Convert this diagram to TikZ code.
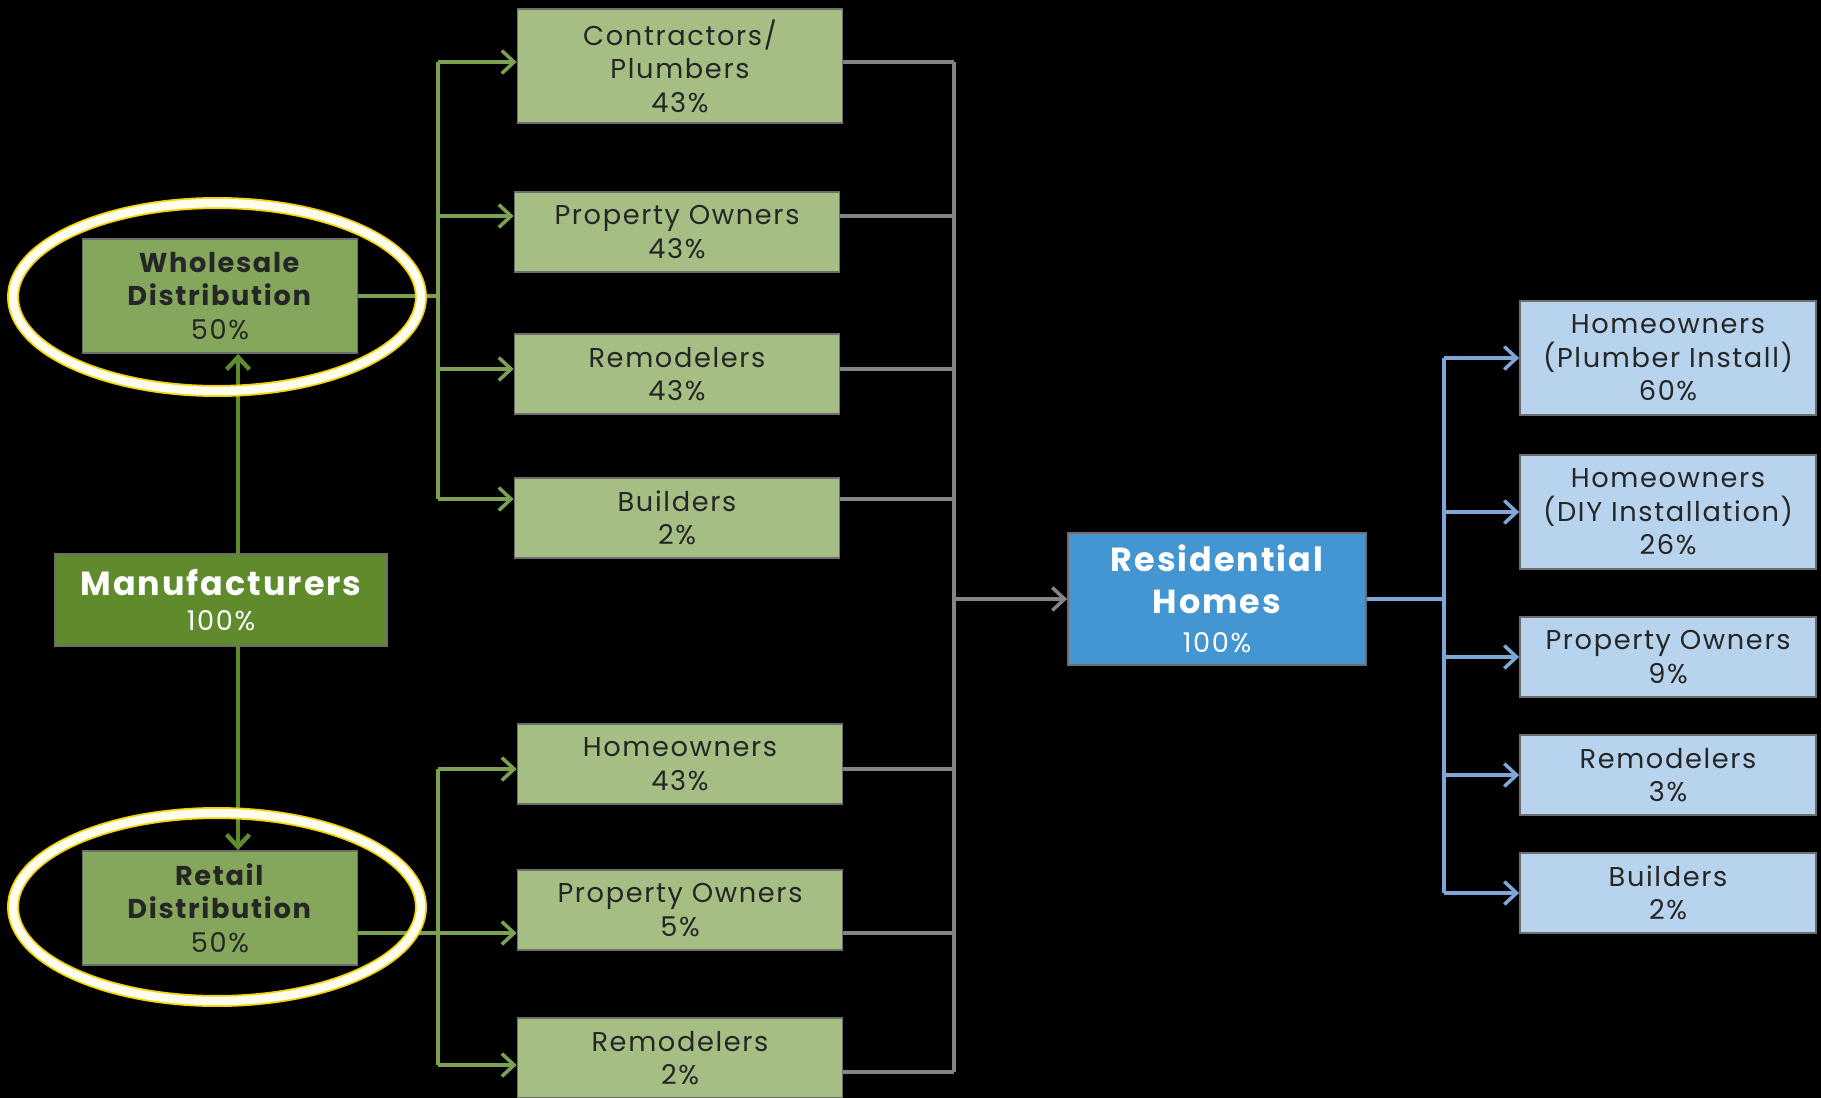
\documentclass[tikz,border=0pt]{standalone}
\usepackage{fontspec}
\setmainfont{Poppins}[LetterSpace=6]
\usetikzlibrary{arrows.meta}

\definecolor{leaf}{HTML}{A4BE84}
\definecolor{moss}{HTML}{85A75B}
\definecolor{forest}{HTML}{5F8B2C}
\definecolor{ocean}{HTML}{4396D2}
\definecolor{sky}{HTML}{B7D3EE}
\definecolor{ink}{HTML}{262626}
\definecolor{rim}{HTML}{6E6E6E}
\definecolor{greenwire}{HTML}{7DA153}
\definecolor{graywire}{HTML}{858585}
\definecolor{bluewire}{HTML}{7EA7D8}
\definecolor{ringgold}{HTML}{F2D200}
\definecolor{ringcream}{HTML}{FFFDEB}

\newcommand{\boxfont}{\fontsize{15.5}{19}\selectfont}
\newcommand{\headfont}{\bfseries\fontsize{19}{26}\selectfont}

\tikzset{
  box/.style={draw=rim, line width=1pt, align=center, inner sep=0pt, text=ink, font=\boxfont},
  leafbox/.style={box, fill=leaf, minimum width=6.5cm, minimum height=1.6cm},
  skybox/.style={box, fill=sky, minimum width=5.92cm, minimum height=1.6cm},
  tallbox/.style={minimum height=2.28cm},
  gline/.style={draw=greenwire, line width=2pt},
  gflow/.style={gline, -{Straight Barb[length=7pt,width=13pt]}},
  grayline/.style={draw=graywire, line width=2pt},
  grayflow/.style={grayline, -{Straight Barb[length=7pt,width=13pt]}},
  bline/.style={draw=bluewire, line width=2pt},
  bflow/.style={bline, -{Straight Barb[length=7pt,width=13pt]}},
  mflow/.style={draw=forest, line width=2.5pt, -{Straight Barb[length=7pt,width=13pt]}},
  ring/.style={line width=0.24cm, draw=ringgold, postaction={draw=ringcream, line width=0.17cm}}
}

\begin{document}
\begin{tikzpicture}[x=0.02cm, y=-0.02cm]
  \useasboundingbox (0,0) rectangle (1821,1098);
  \fill[black] (0,0) rectangle (1821,1098);

  % sources
  \node[box, fill=forest, text=white, minimum width=6.64cm, minimum height=1.84cm] (manu) at (221,600) {{\headfont Manufacturers}\\[1pt]100\%};
  \node[box, fill=moss, minimum width=5.5cm, minimum height=2.28cm] (whole) at (220,296) {\textbf{Wholesale}\\\textbf{Distribution}\\50\%};
  \node[box, fill=moss, minimum width=5.5cm, minimum height=2.28cm] (retail) at (220,908) {\textbf{Retail}\\\textbf{Distribution}\\50\%};

  % middle column
  \node[leafbox, tallbox] (contr) at (680,66) {Contractors/\\Plumbers\\43\%};
  \node[leafbox] (propw) at (677,232) {Property Owners\\43\%};
  \node[leafbox] (remw) at (677,374) {Remodelers\\43\%};
  \node[leafbox] (buildw) at (677,518) {Builders\\2\%};
  \node[leafbox] (homer) at (680,764) {Homeowners\\43\%};
  \node[leafbox] (propr) at (680,910) {Property Owners\\5\%};
  \node[leafbox] (remr) at (680,1058) {Remodelers\\2\%};

  % target and end users
  \node[box, fill=ocean, text=white, minimum width=5.96cm, minimum height=2.64cm] (res) at (1217,599) {{\headfont Residential}\\[5pt]{\headfont Homes}\\[3pt]100\%};
  \node[skybox, tallbox] (hplumb) at (1668,358) {Homeowners\\(Plumber Install)\\60\%};
  \node[skybox, tallbox] (hdiy) at (1668,512) {Homeowners\\(DIY Installation)\\26\%};
  \node[skybox] (propu) at (1668,657) {Property Owners\\9\%};
  \node[skybox] (remu) at (1668,775) {Remodelers\\3\%};
  \node[skybox] (buildu) at (1668,893) {Builders\\2\%};

  \coordinate (wbus) at (438,0);
  \coordinate (gbus) at (954,0);
  \coordinate (bbus) at (1444,0);

  % manufacturers split
  \draw[mflow] (manu.north -| 238,0) -- (whole.south -| 238,0);
  \draw[mflow] (manu.south -| 238,0) -- (retail.north -| 238,0);

  % wholesale channel
  \draw[gline] (whole.east) -- (wbus |- whole.east);
  \draw[gline] (wbus |- 0,62) -- (wbus |- 0,499);
  \foreach \n/\y in {contr/62, propw/216, remw/369, buildw/499}
    \draw[gflow] (wbus |- 0,\y) -- (\n.west |- 0,\y);

  % retail channel
  \draw[gline] (retail.east |- 0,933) -- (wbus |- 0,933);
  \draw[gline] (wbus |- 0,769) -- (wbus |- 0,1065);
  \foreach \n/\y in {homer/769, propr/933, remr/1065}
    \draw[gflow] (wbus |- 0,\y) -- (\n.west |- 0,\y);

  % collect into homes
  \foreach \n/\y in {contr/62, propw/216, remw/369, buildw/499, homer/769, propr/933, remr/1072}
    \draw[grayline] (\n.east |- 0,\y) -- (gbus |- 0,\y);
  \draw[grayline] (gbus |- 0,62) -- (gbus |- 0,1072);
  \draw[grayflow] (gbus |- res.west) -- (res.west);

  % end users
  \draw[bline] (res.east) -- (bbus |- res.east);
  \draw[bline] (bbus |- hplumb.west) -- (bbus |- buildu.west);
  \foreach \n in {hplumb, hdiy, propu, remu, buildu}
    \draw[bflow] (bbus |- \n.west) -- (\n.west);

  % highlight rings
  \draw[ring] (217,297) ellipse [x radius=4.08cm, y radius=1.88cm];
  \draw[ring] (217,907) ellipse [x radius=4.08cm, y radius=1.88cm];
\end{tikzpicture}
\end{document}
